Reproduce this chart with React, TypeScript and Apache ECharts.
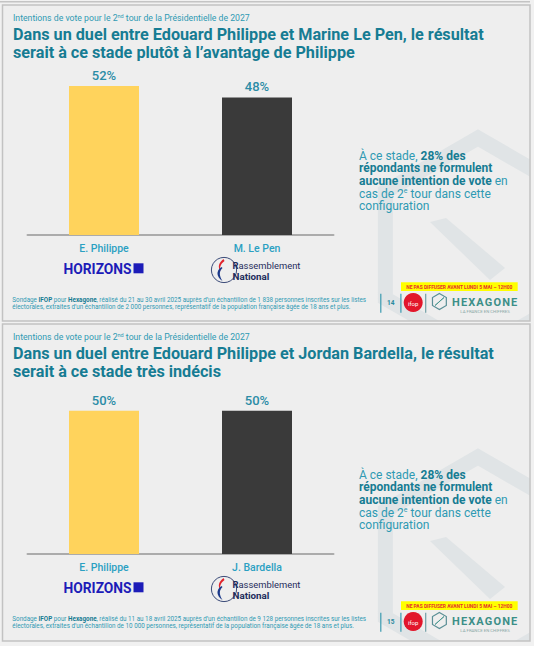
import React, { useEffect, useRef } from "react";
import * as echarts from "echarts";

// ---------- data ----------
const slide1Categories = ["E. Philippe", "M. Le Pen"];
const slide1Values = [52, 48];
const slide2Categories = ["E. Philippe", "J. Bardella"];
const slide2Values = [50, 50];
const barColors = ["#FFD35C", "#3A3A3A"];

const slide1Title = [
  "Dans un duel entre Edouard Philippe et Marine Le Pen, le résultat",
  "serait à ce stade plutôt à l’avantage de Philippe",
];
const slide2Title = [
  "Dans un duel entre Edouard Philippe et Jordan Bardella, le résultat",
  "serait à ce stade très indécis",
];
const slide1Footer = [
  ", réalisé du 21 au 30 avril 2025 auprès d’un échantillon de 1 838 personnes inscrites sur les listes",
  "électorales, extraites d’un échantillon de 2 000 personnes, représentatif de la population française âgée de 18 ans et plus.",
];
const slide2Footer = [
  ", réalisé du 11 au 18 avril 2025 auprès d’un échantillon de 9 128 personnes inscrites sur les listes",
  "électorales, extraites d’un échantillon de 10 000 personnes, représentatif de la population française âgée de 18 ans et plus.",
];
const pageNumbers = ["14", "15"];
const undecidedShare = "28%";

// ---------- styles ----------
const FONT = "Roboto, 'Noto Sans', sans-serif";
const TEAL_DARK = "#167c93";
const TEAL = "#2f9ab3";
const PAGE_BG = "#f1f1f1";
const SLIDE_BG = "#eeeeee";
const WM = "#e0e4e6";

echarts.graphic.registerShape(
  "rnFlameRed",
  echarts.graphic.extendPath("M7,0 C2,4 1,8 4,12 C3,8 4,5 8,2 Z", {})
);
echarts.graphic.registerShape(
  "rnFlameBlue",
  echarts.graphic.extendPath("M5,8 C-1,12 0,18 6,22 C3,17 2,13 6,9 Z", {})
);

function hexPoints(cx: number, cy: number, r: number) {
  const pts: number[][] = [];
  for (let i = 0; i < 6; i++) {
    const a = (Math.PI / 180) * (-90 + 60 * i);
    pts.push([cx + r * Math.cos(a), cy + r * Math.sin(a)]);
  }
  return pts;
}

function watermark(dy: number) {
  return [
    {
      type: "polygon",
      silent: true,
      shape: { points: hexPoints(478, 245 + dy, 107) },
      style: { fill: "none", stroke: WM, lineWidth: 15, lineJoin: "miter" },
    },
    {
      type: "polygon",
      silent: true,
      shape: {
        points: [
          [430, 222 + dy],
          [446, 218 + dy],
          [505, 268 + dy],
          [490, 280 + dy],
        ],
      },
      style: { fill: WM },
    },
  ];
}

function slideContent(dy: number, title: string[], footer: string[], page: string) {
  const els: any[] = [];
  // subtitle
  els.push({
    type: "text",
    x: 13,
    y: 18 + dy,
    style: {
      text: "{n|Intentions de vote pour le 2}{s|nd}{n| tour de la Présidentielle de 2027}",
      verticalAlign: "middle",
      align: "left",
      rich: {
        n: { fontSize: 8.7, fontFamily: FONT, fill: TEAL, lineHeight: 11 },
        s: { fontSize: 5.5, fontFamily: FONT, fill: TEAL, verticalAlign: "top", lineHeight: 11 },
      },
    },
  });
  // title
  title.forEach((t, i) => {
    els.push({
      type: "text",
      x: 13,
      y: 34 + i * 18.5 + dy,
      style: {
        text: t,
        fontSize: 16.2,
        fontWeight: "bold",
        fontFamily: FONT,
        fill: TEAL_DARK,
        verticalAlign: "middle",
        align: "left",
      },
    });
  });
  // right annotation
  els.push({
    type: "text",
    x: 359,
    y: 149.5 + dy,
    style: {
      text:
        "{n|À ce stade, }{b|" + undecidedShare + " des}\n{b|répondants ne formulent}\n{b|aucune intention de vote}{n| en}\n{n|cas de 2}{s|e}{n| tour dans cette}\n{n|configuration}",
      verticalAlign: "top",
      align: "left",
      rich: {
        n: { fontSize: 12, fontFamily: FONT, fill: TEAL, lineHeight: 12.6 },
        b: { fontSize: 12, fontFamily: FONT, fontWeight: "bold", fill: TEAL_DARK, lineHeight: 12.6 },
        s: { fontSize: 7, fontFamily: FONT, fill: TEAL, verticalAlign: "top", lineHeight: 12.6 },
      },
    },
  });
  // HORIZONS logo
  els.push({
    type: "text",
    x: 63.5,
    y: 268.5 + dy,
    style: {
      text: "HORIZONS",
      fontSize: 13.8,
      fontWeight: "bold",
      fontFamily: FONT,
      fill: "#1c1cb8",
      verticalAlign: "middle",
      align: "left",
    },
  });
  els.push({
    type: "rect",
    shape: { x: 133.5, y: 263.3 + dy, width: 10, height: 10 },
    style: { fill: "#1c1cb8" },
  });
  // RN logo
  els.push({
    type: "circle",
    shape: { cx: 224, cy: 270 + dy, r: 12.6 },
    style: { fill: "none", stroke: "#3a4a78", lineWidth: 1 },
  });
  els.push({ type: "rnFlameRed", x: 216.5, y: 259 + dy, style: { fill: "#e1232b" } });
  els.push({ type: "rnFlameBlue", x: 216.5, y: 259 + dy, style: { fill: "#1d3a8a" } });
  els.push({
    type: "text",
    x: 232.5,
    y: 265 + dy,
    style: {
      text: "{b|R}{n|assemblement}",
      verticalAlign: "middle",
      align: "left",
      rich: {
        b: { fontSize: 9.4, fontWeight: "bold", fontFamily: FONT, fill: "#1f2d5c" },
        n: { fontSize: 9.4, fontFamily: FONT, fill: "#1f2d5c" },
      },
    },
  });
  els.push({
    type: "text",
    x: 232.5,
    y: 276 + dy,
    style: {
      text: "National",
      fontSize: 9.8,
      fontWeight: "bold",
      fontFamily: FONT,
      fill: "#1f2d5c",
      verticalAlign: "middle",
      align: "left",
    },
  });
  // footer
  els.push({
    type: "text",
    x: 12.3,
    y: 297 + dy,
    style: {
      text: "{n|Sondage }{b|IFOP}{n| pour }{b|Hexagone}{n|" + footer[0] + "}\n{n|" + footer[1] + "}",
      verticalAlign: "top",
      align: "left",
      rich: {
        n: { fontSize: 6.3, fontFamily: FONT, fill: TEAL, lineHeight: 6.9 },
        b: { fontSize: 6.3, fontFamily: FONT, fontWeight: "bold", fill: TEAL_DARK, lineHeight: 6.9 },
      },
    },
  });
  // separators
  [
    [380.8, "#3a9ab0"],
    [400.9, "#3a9ab0"],
    [425.7, "#6f9ea6"],
  ].forEach(([x, c]) => {
    els.push({
      type: "line",
      shape: { x1: x as number, y1: 293.7 + dy, x2: x as number, y2: 312.8 + dy },
      style: { stroke: c as string, lineWidth: 1.2 },
    });
  });
  els.push({
    type: "text",
    x: 390.7,
    y: 302.5 + dy,
    style: {
      text: page,
      fontSize: 6.5,
      fontWeight: "bold",
      fontFamily: FONT,
      fill: "#2a8aa0",
      verticalAlign: "middle",
      align: "center",
    },
  });
  // ifop logo
  els.push({
    type: "circle",
    shape: { cx: 413.2, cy: 302.5 + dy, r: 9.5 },
    style: { fill: "#e2162b" },
  });
  els.push({
    type: "text",
    x: 413.2,
    y: 303 + dy,
    style: {
      text: "ifop",
      fontSize: 6,
      fontFamily: FONT,
      fill: "#ffffff",
      verticalAlign: "middle",
      align: "center",
    },
  });
  // hexagone logo
  els.push({
    type: "polygon",
    shape: { points: hexPoints(439.4, 301.5 + dy, 8) },
    style: { fill: "none", stroke: "#5a8f96", lineWidth: 1.2 },
  });
  els.push({
    type: "polygon",
    shape: {
      points: [
        [435, 305.5 + dy],
        [440.5, 300.5 + dy],
        [444, 297.5 + dy],
        [438.5, 302.5 + dy],
      ],
    },
    style: { fill: "#3c8f88", stroke: "#3c8f88", lineWidth: 0.8 },
  });
  els.push({
    type: "text",
    x: 452,
    y: 302.5 + dy,
    style: {
      text: "H\u200AE\u200AX\u200AA\u200AG\u200AO\u200AN\u200AE",
      fontSize: 11,
      fontWeight: "bold",
      fontFamily: FONT,
      fill: "#3c8f88",
      verticalAlign: "middle",
      align: "left",
    },
  });
  els.push({
    type: "text",
    x: 485,
    y: 311 + dy,
    style: {
      text: "LA FRANCE EN CHIFFRES",
      fontSize: 4.3,
      fontFamily: FONT,
      fill: "#8aa8a6",
      verticalAlign: "middle",
      align: "center",
    },
  });
  // yellow banner
  els.push({
    type: "rect",
    shape: { x: 401, y: 282.2 + dy, width: 116.7, height: 8.8 },
    style: { fill: "#ffff00" },
  });
  els.push({
    type: "text",
    x: 459.3,
    y: 286.6 + dy,
    style: {
      text: "NE PAS DIFFUSER AVANT LUNDI 5 MAI – 12H00",
      fontSize: 4.9,
      fontWeight: "bold",
      fontFamily: FONT,
      fill: "#e5322a",
      verticalAlign: "middle",
      align: "center",
    },
  });
  return els;
}

function buildGraphic() {
  const S1 = { y: 5, h: 316 };
  const S2 = { y: 324, h: 317 };
  const els: any[] = [];
  els.push({ type: "rect", shape: { x: 0, y: 0, width: 534, height: 646 }, style: { fill: PAGE_BG } });
  els.push({ type: "rect", shape: { x: 2.5, y: S1.y, width: 527.5, height: S1.h }, style: { fill: SLIDE_BG } });
  els.push(...watermark(0));
  els.push({ type: "rect", shape: { x: 2.5, y: S2.y, width: 527.5, height: S2.h }, style: { fill: SLIDE_BG } });
  els.push(...watermark(319));
  // covers outside slides
  els.push({ type: "rect", shape: { x: 0, y: 0, width: 534, height: S1.y }, style: { fill: PAGE_BG } });
  els.push({ type: "rect", shape: { x: 0, y: S1.y + S1.h, width: 534, height: S2.y - S1.y - S1.h }, style: { fill: PAGE_BG } });
  els.push({ type: "rect", shape: { x: 0, y: S2.y + S2.h, width: 534, height: 646 - S2.y - S2.h }, style: { fill: PAGE_BG } });
  els.push({ type: "rect", shape: { x: 530, y: 0, width: 4, height: 646 }, style: { fill: PAGE_BG } });
  els.push({ type: "rect", shape: { x: 0, y: 0, width: 2.5, height: 646 }, style: { fill: PAGE_BG } });
  // previous slide bottom edge
  els.push({ type: "line", shape: { x1: 0, y1: 1.8, x2: 530, y2: 1.8 }, style: { stroke: "#c4c4c4", lineWidth: 1.5 } });
  // borders
  els.push({ type: "rect", shape: { x: 2.5, y: S1.y, width: 527.5, height: S1.h }, style: { fill: "none", stroke: "#c2c2c2", lineWidth: 1.5 } });
  els.push({ type: "rect", shape: { x: 2.5, y: S2.y, width: 527.5, height: S2.h }, style: { fill: "none", stroke: "#c2c2c2", lineWidth: 1.5 } });
  els.push(...slideContent(0, slide1Title, slide1Footer, pageNumbers[0]));
  els.push(...slideContent(319, slide2Title, slide2Footer, pageNumbers[1]));
  return els;
}

function barSeries(idx: number, values: number[]) {
  return {
    type: "bar",
    xAxisIndex: idx,
    yAxisIndex: idx,
    barWidth: 70,
    z: 5,
    data: values.map((v, i) => ({ value: v, itemStyle: { color: barColors[i] } })),
    label: {
      show: true,
      position: "top",
      distance: 4,
      formatter: "{c}%",
      color: "#2b8ca6",
      fontSize: 13,
      fontWeight: 500,
      fontFamily: FONT,
    },
  };
}

function xAxisFor(idx: number, cats: string[]) {
  return {
    type: "category",
    gridIndex: idx,
    data: cats,
    z: 5,
    axisLine: { lineStyle: { color: "#ababab", width: 2 } },
    axisTick: { show: false },
    axisLabel: { color: "#2aa0c2", fontSize: 10.5, fontWeight: 500, margin: 8, fontFamily: FONT },
  };
}

export default function App() {
  const ref = useRef<HTMLDivElement>(null);
  useEffect(() => {
    document.body.style.margin = "0";
    if (!ref.current) return;
    const chart = echarts.init(ref.current, undefined, { renderer: "svg" });
    chart.setOption({
      animation: false,
      backgroundColor: PAGE_BG,
      graphic: { elements: buildGraphic() },
      grid: [
        { left: 27.5, top: 63, width: 306, height: 172 },
        { left: 27.5, top: 382, width: 306, height: 172 },
      ],
      xAxis: [xAxisFor(0, slide1Categories), xAxisFor(1, slide2Categories)],
      yAxis: [
        { type: "value", gridIndex: 0, min: 0, max: 60, show: false },
        { type: "value", gridIndex: 1, min: 0, max: 60, show: false },
      ],
      series: [barSeries(0, slide1Values), barSeries(1, slide2Values)],
    });
    return () => chart.dispose();
  }, []);
  return <div ref={ref} style={{ width: 534, height: 646 }} />;
}
